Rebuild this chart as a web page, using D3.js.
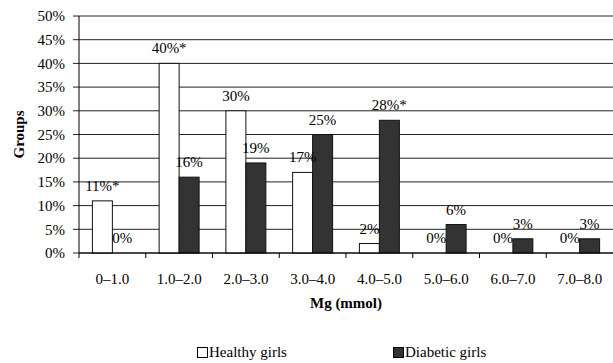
<!DOCTYPE html>
<html>
<head>
<meta charset="utf-8">
<script src="https://cdn.jsdelivr.net/npm/d3@7/dist/d3.min.js"></script>
<style>
  html, body { margin: 0; padding: 0; background: #fff; }
  svg { display: block; }
</style>
</head>
<body>
<svg id="chart" width="613" height="363"></svg>
<script>
const categories = ["0\u20131.0", "1.0\u20132.0", "2.0\u20133.0", "3.0\u20134.0", "4.0\u20135.0", "5.0\u20136.0", "6.0\u20137.0", "7.0\u20138.0"];
const seriesNames = ["Healthy girls", "Diabetic girls"];
const healthy = [11, 40, 30, 17, 2, 0, 0, 0];
const diabetic = [0, 16, 19, 25, 28, 6, 3, 3];
const healthyLabels = ["11%*", "40%*", "30%", "17%", "2%", "0%", "0%", "0%"];
const diabeticLabels = ["0%", "16%", "19%", "25%", "28%*", "6%", "3%", "3%"];
const yTicks = [0, 5, 10, 15, 20, 25, 30, 35, 40, 45, 50];
const xTitle = "Mg (mmol)";
const yTitle = "Groups";

(function () {
const FONT = "Liberation Serif, Times New Roman, serif";
const svg = d3.select("#chart");
const pL = 79, pR = 613, pT = 16, pB = 253;

const x = d3.scaleBand().domain(categories).range([pL, pR]).padding(0);
const xs = d3.scaleBand().domain(seriesNames).range([0, x.bandwidth()]).paddingOuter(0.67).paddingInner(0);
const y = d3.scaleLinear().domain([0, 50]).range([pB, pT]);

const colors = { "Healthy girls": "#ffffff", "Diabetic girls": "#333333" };

function txt(sel, size, bold) {
  return sel.attr("font-family", FONT).attr("font-size", size)
    .attr("font-weight", bold ? "bold" : "normal").attr("fill", "#000");
}

svg.append("g").selectAll("line").data(yTicks).join("line")
  .attr("x1", pL - 6).attr("x2", pR)
  .attr("y1", d => y(d)).attr("y2", d => y(d))
  .attr("stroke", "#222").attr("stroke-width", 1);

txt(svg.append("g").selectAll("text").data(yTicks).join("text")
  .attr("x", 65).attr("y", d => y(d)).attr("dy", "0.35em")
  .attr("text-anchor", "end"), 15)
  .text(d => d + "%");

const rows = categories.map((c, i) => ({ c, vals: [
  { s: seriesNames[0], v: healthy[i], lab: healthyLabels[i] },
  { s: seriesNames[1], v: diabetic[i], lab: diabeticLabels[i] }
]}));

const g = svg.append("g").selectAll("g").data(rows).join("g")
  .attr("transform", d => `translate(${x(d.c)},0)`);

g.selectAll("rect").data(d => d.vals.filter(e => e.v > 0)).join("rect")
  .attr("x", d => xs(d.s)).attr("width", xs.bandwidth())
  .attr("y", d => y(d.v)).attr("height", d => y(0) - y(d.v))
  .attr("fill", d => colors[d.s]).attr("stroke", "#111").attr("stroke-width", 1);

txt(g.selectAll("text").data(d => d.vals).join("text")
  .attr("x", d => xs(d.s) + xs.bandwidth() / 2)
  .attr("y", d => y(d.v) - 10)
  .attr("text-anchor", "middle"), 15)
  .text(d => d.lab);

svg.append("line").attr("x1", pL).attr("x2", pL).attr("y1", pT).attr("y2", pB)
  .attr("stroke", "#000");
svg.append("line").attr("x1", pL).attr("x2", pR).attr("y1", pB).attr("y2", pB)
  .attr("stroke", "#000");
const bounds = categories.map(c => x(c));
svg.append("g").selectAll("line").data(bounds).join("line")
  .attr("x1", d => d).attr("x2", d => d).attr("y1", pB).attr("y2", pB + 5)
  .attr("stroke", "#000");

txt(svg.append("g").selectAll("text").data(categories).join("text")
  .attr("x", d => x(d) + x.bandwidth() / 2).attr("y", 284)
  .attr("text-anchor", "middle"), 15)
  .text(d => d);

txt(svg.append("text").attr("x", (pL + pR) / 2).attr("y", 308)
  .attr("text-anchor", "middle"), 15, true)
  .text(xTitle);
txt(svg.append("text").attr("transform", `translate(24,${(pT + pB) / 2}) rotate(-90)`)
  .attr("text-anchor", "middle"), 15, true)
  .text(yTitle);

const legX = [197, 393];
const leg = svg.append("g").selectAll("g").data(seriesNames).join("g")
  .attr("transform", (d, i) => `translate(${legX[i]},347)`);
leg.append("rect").attr("x", 0.5).attr("y", 0.5).attr("width", 10).attr("height", 10)
  .attr("fill", d => colors[d]).attr("stroke", "#000");
txt(leg.append("text").attr("x", 12).attr("y", 10), 15).text(d => d);
})();
</script>
</body>
</html>
